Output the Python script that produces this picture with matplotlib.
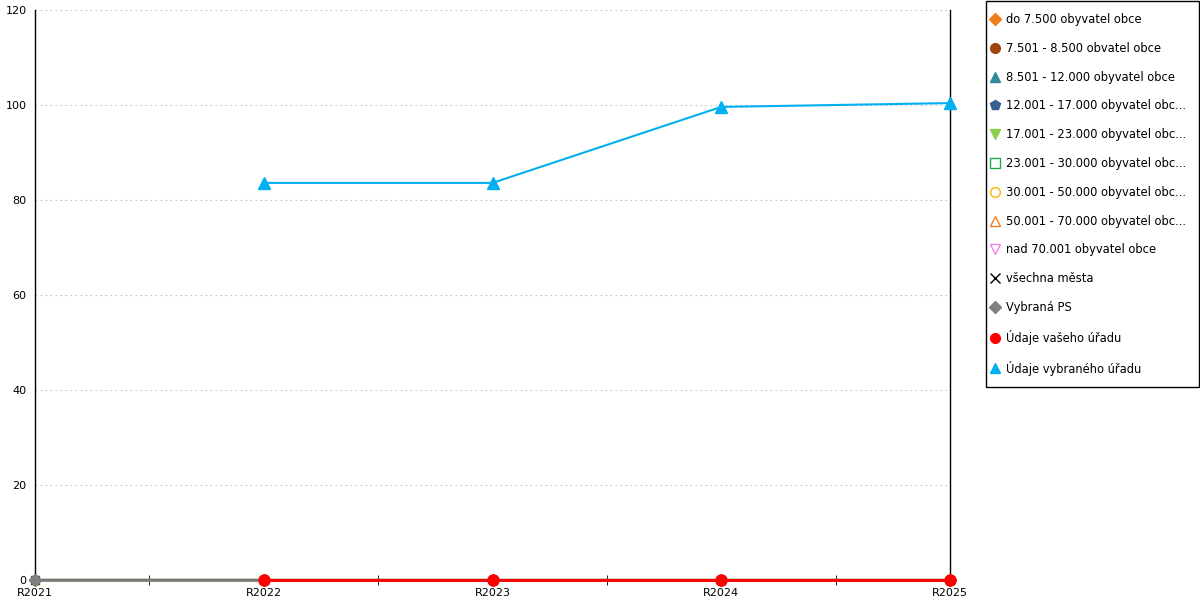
import matplotlib.pyplot as plt
from matplotlib.lines import Line2D
from matplotlib.patches import Rectangle

# data
years = ["R2021", "R2022", "R2023", "R2024", "R2025"]
category_labels = [
    "do 7.500 obyvatel obce",
    "7.501 - 8.500 obvatel obce",
    "8.501 - 12.000 obyvatel obce",
    "12.001 - 17.000 obyvatel obc...",
    "17.001 - 23.000 obyvatel obc...",
    "23.001 - 30.000 obyvatel obc...",
    "30.001 - 50.000 obyvatel obc...",
    "50.001 - 70.000 obyvatel obc...",
    "nad 70.001 obyvatel obce",
    "všechna města",
]
category_values = [0, 0, 0, 0, 0]
ps_values = [0, 0, 0, 0, 0]
our_office = [None, 0, 0, 0, 0]
selected_office = [None, 83.6, 83.6, 99.6, 100.4]

# styles: (marker, color, filled)
cat_styles = [
    ("D", "#ee7d1a", True),
    ("o", "#a0450e", True),
    ("^", "#2f8b9c", True),
    ("p", "#35608f", True),
    ("v", "#8ccf4d", True),
    ("s", "#23a94a", False),
    ("o", "#f6b800", False),
    ("^", "#f57c1f", False),
    ("v", "#ee82ee", False),
    ("x", "#000000", True),
]

fig = plt.figure(figsize=(12, 6), dpi=100)
ax = fig.add_axes([35 / 1200, 20 / 600, 915 / 1200, 570 / 600])
x = list(range(len(years)))

handles = []
for lab, (m, c, filled), in zip(category_labels, cat_styles):
    mfc = c if filled else "white"
    ax.plot(x, category_values, color=c, lw=1.5, marker=m, ms=6,
            mfc=mfc, mec=c, zorder=2, clip_on=False)
    handles.append(Line2D([], [], ls="none", marker=m, ms=7 if m != "D" else 6,
                          mfc=mfc if filled else "none", mec=c, color=c, label=lab))

ax.plot(x, ps_values, color="#808080", lw=2, marker="D", ms=6, zorder=3, clip_on=False)
handles.append(Line2D([], [], ls="none", marker="D", ms=6, color="#808080",
                      label="Vybraná PS"))

ox = [i for i, v in enumerate(our_office) if v is not None]
oy = [v for v in our_office if v is not None]
ax.plot(ox, oy, color="#ff0000", lw=2, marker="o", ms=8, zorder=4, clip_on=False)
handles.append(Line2D([], [], ls="none", marker="o", ms=7, color="#ff0000",
                      label="Údaje vašeho úřadu"))

sx = [i for i, v in enumerate(selected_office) if v is not None]
sy = [v for v in selected_office if v is not None]
ax.plot(sx, sy, color="#00b0f0", lw=1.5, marker="^", ms=8, zorder=5, clip_on=False)
handles.append(Line2D([], [], ls="none", marker="^", ms=7, color="#00b0f0",
                      label="Údaje vybraného úřadu"))

ax.set_xlim(0, len(years) - 1)
ax.set_ylim(0, 120)
ax.set_yticks(range(0, 121, 20))
ax.set_xticks(x)
ax.set_xticklabels(years)
ax.set_xticks([i + 0.5 for i in x[:-1]], minor=True)
ax.tick_params(axis="x", which="major", length=0, pad=6, labelsize=8)
ax.tick_params(axis="x", which="minor", length=7, direction="inout", color="#000000")
ax.tick_params(axis="y", length=0, pad=6, labelsize=8)
ax.grid(axis="y", ls=(0, (1.5, 3)), color="#c4c4c4", lw=0.8)
ax.set_axisbelow(True)
ax.spines["top"].set_visible(False)
ax.spines["bottom"].set_color("#808080")
for s in ("left", "right"):
    ax.spines[s].set_color("black")
    ax.spines[s].set_linewidth(1)
for sp in ax.spines.values():
    sp.set_zorder(1)

# legend box drawn separately so padding matches the original
fig.add_artist(Rectangle((985.5 / 1200, 213.5 / 600), 213 / 1200, 386 / 600,
                         transform=fig.transFigure, fill=False,
                         edgecolor="black", lw=1))
leg = fig.legend(handles=handles, loc="upper left",
                 bbox_to_anchor=(990 / 1200, 1 - 13 / 600),
                 frameon=False, fontsize=8.3,
                 labelspacing=1.37, handlelength=0.8, handletextpad=0.6,
                 borderpad=0, borderaxespad=0)

fig.savefig("out.png", dpi=100)
